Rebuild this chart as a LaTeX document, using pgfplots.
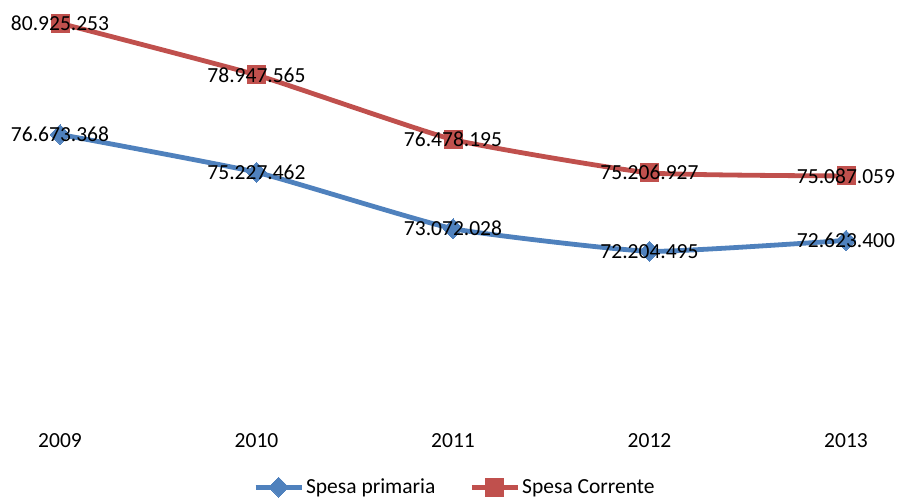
\documentclass[border=0pt]{standalone}
\usepackage{pgfplots}
\pgfplotsset{compat=1.18}
\usepackage{fontspec}
\setmainfont{Carlito}
\definecolor{primaria}{HTML}{4F81BD}
\definecolor{corrente}{HTML}{C0504D}

\begin{document}
\begin{tikzpicture}[font=\fontsize{21.5}{26}\selectfont]
\begin{axis}[
  name=main,
  anchor=south west,
  scale only axis, width=786pt, height=408pt,
  xmin=0, xmax=4, ymin=65450000, ymax=81050000,
  axis line style={draw=none}, tick style={draw=none},
  ytick=\empty,
  xtick={0,1,2,3,4},
  xticklabels={2009,2010,2011,2012,2013},
  /pgf/number format/assume math mode=true,
  xticklabel style={yshift=-2pt},
  clip=false,
  point meta=explicit symbolic,
  nodes near coords,
  nodes near coords align={center},
  every node near coord/.append style={anchor=center, text=black, font=\fontsize{21.5}{26}\selectfont},
  legend columns=2,
  legend style={draw=none, fill=none, at={(0.5025,-0.145)}, anchor=center,
    font=\fontsize{21.5}{26}\selectfont,
    /tikz/every even column/.append style={column sep=32pt},
    inner sep=0pt},
  legend image code/.code={\draw[#1, mark repeat=2, mark phase=2] plot coordinates {(0pt,0pt)(23pt,0pt)(46pt,0pt)};},
]
\addplot[color=primaria, line width=4.8pt, smooth, tension=0.25,
  mark=square*, mark size=7pt, mark options={solid, line width=0pt, rotate=45}]
  coordinates {
    (0,76673368)[76.673.368]
    (1,75227462)[75.227.462]
    (2,73072028)[73.072.028]
    (3,72204495)[72.204.495]
    (4,72623400)[72.623.400]
  };
\addlegendentry{Spesa primaria}
\addplot[color=corrente, line width=4.8pt, smooth, tension=0.25,
  mark=square*, mark size=9pt, mark options={solid, line width=0pt}]
  coordinates {
    (0,80925253)[80.925.253]
    (1,78947565)[78.947.565]
    (2,76478195)[76.478.195]
    (3,75206927)[75.206.927]
    (4,75087059)[75.087.059]
  };
\addlegendentry{Spesa Corrente}
\end{axis}
% page frame: 901 x 500 around the axis box
\pgfresetboundingbox
\path[use as bounding box] (main.south west) ++(-60pt,-72pt) rectangle ++(901pt,500pt);
\end{tikzpicture}
\end{document}
